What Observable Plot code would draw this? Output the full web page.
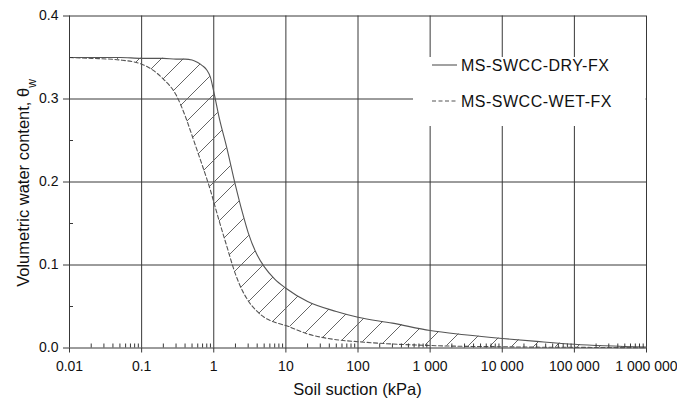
<!DOCTYPE html>
<html><head><meta charset="utf-8">
<script src="https://cdn.jsdelivr.net/npm/d3@7"></script>
<script src="https://cdn.jsdelivr.net/npm/@observablehq/plot@0.6"></script>
<style>
body{margin:0;background:#fff;}
#chart svg{font-family:"Liberation Sans",Arial,Helvetica,sans-serif;}
</style></head><body><div id="chart"></div>
<script>
// Soil suction (kPa)
const suction = [0.01,0.02,0.05,0.1,0.2,0.3,0.4,0.5,0.6,0.7,0.8,0.9,1,1.2,1.5,2,2.5,3,4,5,7,10,20,50,100,300,1000,3000,10000,30000,100000,1000000];
// MS-SWCC-DRY-FX
const dryTheta = [0.350,0.350,0.350,0.349,0.349,0.348,0.348,0.347,0.344,0.340,0.335,0.326,0.309,0.276,0.243,0.196,0.163,0.139,0.112,0.098,0.083,0.072,0.056,0.044,0.037,0.030,0.021,0.016,0.0115,0.008,0.0045,0.001];
// MS-SWCC-WET-FX
const wetTheta = [0.350,0.349,0.347,0.342,0.324,0.305,0.280,0.256,0.236,0.219,0.204,0.190,0.176,0.152,0.124,0.089,0.069,0.057,0.044,0.037,0.031,0.027,0.017,0.010,0.0076,0.0048,0.003,0.002,0.0015,0.001,0.0008,0.0003];
const seriesNames = ["MS-SWCC-DRY-FX","MS-SWCC-WET-FX"];
const xTickValues = [0.01,0.1,1,10,100,1000,10000,100000,1000000];
const xTickLabels = ["0.01","0.1","1","10","100","1 000","10 000","100 000","1 000 000"];
const yTickValues = [0,0.1,0.2,0.3,0.4];
const yTickLabels = ["0.0","0.1","0.2","0.3","0.4"];
const yMinorTicks = [0.05,0.15,0.25,0.35];
const minorMultipliers = [2,3,4,5,6,7,8,9];
const xLabel = "Soil suction (kPa)";
const yLabelMain = "Volumetric water content, ";
const yLabelSym = "θ";
const yLabelSub = "w";

const rows = suction.map((s,i)=>({s, dry: dryTheta[i], wet: wetTheta[i]}));
const xMinor = xTickValues.slice(0,-1).flatMap(v => minorMultipliers.map(m => v*m));

const ink = "#111";
const gridColor = "#383838";
const curveColor = "#555";

function hatchDefs() {
  const g = d3.create("svg:g");
  const w = 22;
  const p = g.append("defs").append("pattern")
    .attr("id","hatch").attr("patternUnits","userSpaceOnUse")
    .attr("width",w).attr("height",w);
  p.append("path")
    .attr("d",`M-1,1 l2,-2 M0,${w} l${w},${-w} M${w-1},${w+1} l2,-2`)
    .attr("stroke","#666").attr("stroke-width",1).attr("fill","none");
  return g.node();
}

const chart = Plot.plot({
  width: 677, height: 401,
  marginLeft: 69, marginRight: 31, marginTop: 15.5, marginBottom: 53.5,
  style: {fontSize: "14px", color: ink, background: "#fff"},
  x: {type: "log", domain: [0.01, 1000000]},
  y: {domain: [0, 0.4]},
  marks: [
    hatchDefs,
    Plot.gridX(xTickValues, {stroke: gridColor, strokeOpacity: 1}),
    Plot.gridY(yTickValues, {stroke: gridColor, strokeOpacity: 1}),
    Plot.areaY(rows, {x: "s", y1: "wet", y2: "dry", fill: "url(#hatch)", curve: "monotone-x"}),
    Plot.line(rows, {x: "s", y: "dry", stroke: curveColor, strokeWidth: 1.1, curve: "monotone-x"}),
    Plot.line(rows, {x: "s", y: "wet", stroke: curveColor, strokeWidth: 1.1, strokeDasharray: "4,2.5", curve: "monotone-x"}),
    Plot.axisX(xTickValues, {tickSize: 5, tickPadding: 8, stroke: gridColor, label: null, fontSize: 14,
      tickFormat: d => xTickLabels[xTickValues.indexOf(d)]}),
    Plot.axisX(xMinor, {tickSize: -4, tickPadding: 0, stroke: gridColor, label: null, tickFormat: () => ""}),
    Plot.axisY(yTickValues, {tickSize: 6, tickPadding: 5, stroke: gridColor, label: null, fontSize: 14,
      tickFormat: d => yTickLabels[yTickValues.indexOf(d)]}),
    Plot.axisY(yMinorTicks, {tickSize: -4, tickPadding: 0, stroke: gridColor, label: null, tickFormat: () => ""})
  ]
});

const svg = d3.select(chart);
// x axis label
svg.append("text")
  .attr("x", 357.5).attr("y", 395)
  .attr("text-anchor", "middle").attr("font-size", 16.5).attr("fill", ink)
  .text(xLabel);
// y axis label with subscript
const yl = svg.append("text")
  .attr("transform", "translate(28.5,183) rotate(-90)")
  .attr("text-anchor", "middle").attr("font-size", 16.5).attr("fill", ink);
yl.append("tspan").text(yLabelMain + yLabelSym);
yl.append("tspan").attr("baseline-shift", "sub").attr("font-size", 12).text(yLabelSub);

// legend
const lg = svg.append("g");
lg.append("rect").attr("x", 413).attr("y", 57).attr("width", 232.5).attr("height", 69).attr("fill", "#fff");
const legendY = [65, 101];
const legendDash = [null, "4,2.5"];
seriesNames.forEach((name, i) => {
  lg.append("line").attr("x1", 432).attr("x2", 457).attr("y1", legendY[i]).attr("y2", legendY[i])
    .attr("stroke", curveColor).attr("stroke-width", 1.1).attr("stroke-dasharray", legendDash[i]);
  lg.append("text").attr("x", 461).attr("y", legendY[i]).attr("dy", "0.36em")
    .attr("text-anchor", "start").attr("font-size", 16).attr("letter-spacing", "0.5px")
    .attr("fill", ink).text(name);
});

document.getElementById("chart").appendChild(chart);
</script>
</body></html>
